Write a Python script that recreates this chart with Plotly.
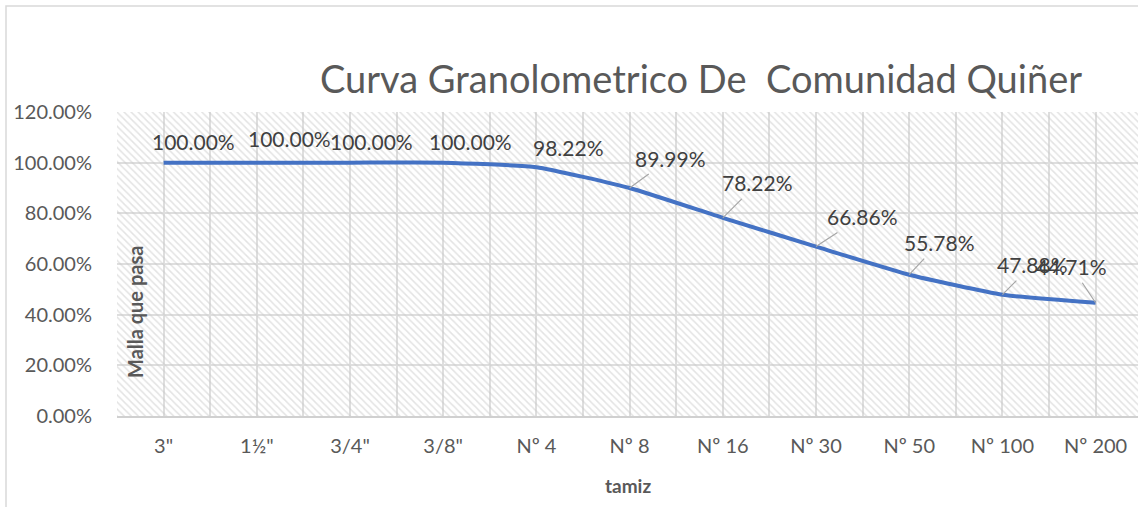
import plotly.graph_objects as go

categories = ['3"', '1½"', '3/4"', '3/8"', 'Nº 4', 'Nº 8', 'Nº 16', 'Nº 30', 'Nº 50', 'Nº 100', 'Nº 200']
passing = [1.0, 1.0, 1.0, 1.0, 0.9822, 0.8999, 0.7822, 0.6686, 0.5578, 0.4788, 0.4471]
label_dx = [30, 33, 21, 27, 32, 41, 35, 46, 30, 30, -24]
label_dy = [-21, -24, -21, -21, -20, -30, -35, -30, -32, -30, -36]
show_leader = [False, False, False, False, False, True, True, True, True, True, True]

title_text = "Curva Granolometrico De  Comunidad Quiñer"
x_title = "tamiz"
y_title = "Malla que pasa"

W, H = 1138, 507
ML, MR, MT, MB = 117, 0, 112, 91
FONT = "Lato"
GRAY = "#595959"
idx = list(range(len(categories)))

fig = go.Figure()

# hatched plot-area background
fig.add_trace(go.Bar(
    x=idx, y=[1.2] * len(idx), width=1.0,
    marker=dict(color="rgba(0,0,0,0)", line=dict(width=0),
                pattern=dict(shape="\\", fgcolor="#c8c8c8", bgcolor="rgba(0,0,0,0)",
                             size=5, solidity=0.3)),
    hoverinfo="skip", showlegend=False))

fig.add_trace(go.Scatter(
    x=idx, y=passing, mode="lines",
    line=dict(color="#4472C4", width=4, shape="spline", smoothing=0.45),
    hoverinfo="skip", showlegend=False))

for i, v in enumerate(passing):
    fig.add_annotation(
        x=i, y=v, xref="x", yref="y", text=f"{v*100:.2f}%",
        showarrow=True, arrowhead=0, arrowwidth=1.2, borderpad=3,
        arrowcolor="#a6a6a6" if show_leader[i] else "rgba(0,0,0,0)",
        ax=label_dx[i], ay=label_dy[i],
        font=dict(family=FONT, size=21, color="#404040"))

plot_w = W - ML - MR
plot_h = H - MT - MB
xmax = -0.5 + plot_w / 93.2

fig.update_layout(
    width=W, height=H,
    margin=dict(l=ML, r=MR, t=MT, b=MB, autoexpand=False),
    paper_bgcolor="white", plot_bgcolor="white",
    bargap=0,
    font=dict(family=FONT, color=GRAY),
    title=dict(text=title_text, xref="paper", x=(701 - ML) / plot_w, xanchor="center",
               yref="container", y=1 - 80 / H, yanchor="middle", automargin=False,
               font=dict(family=FONT, size=38, color=GRAY)),
    xaxis=dict(range=[-0.5, xmax], tickmode="array", tickvals=idx, ticktext=categories,
               showgrid=True, gridcolor="#dedede", gridwidth=1.5,
               minor=dict(tickmode="array", tickvals=[i - 0.5 for i in idx] + [10.5],
                          showgrid=True, gridcolor="#dedede", gridwidth=1.5),
               showline=True, linecolor="#d0d0d0", linewidth=2,
               ticks="outside", ticklen=11, tickcolor="rgba(0,0,0,0)",
               tickfont=dict(family=FONT, size=20, color=GRAY),
               zeroline=False, fixedrange=True, automargin=False),
    yaxis=dict(range=[0, 1.2], dtick=0.2, tickformat=".2%",
               showgrid=True, gridcolor="#dedede", gridwidth=1.5,
               ticks="outside", ticklen=20, tickcolor="rgba(0,0,0,0)",
               tickfont=dict(family=FONT, size=20, color=GRAY),
               zeroline=False, showline=False, automargin=False),
)

# axis titles
fig.add_annotation(text=f"<b>{x_title}</b>", xref="paper", yref="paper",
                   x=(628 - ML) / plot_w, y=-(486 - (H - MB)) / plot_h,
                   showarrow=False, xanchor="center", yanchor="middle",
                   font=dict(family=FONT, size=19, color=GRAY))
fig.add_annotation(text=f"<b>{y_title}</b>", xref="paper", yref="paper",
                   x=(135 - ML) / plot_w, y=(416 - 312) / plot_h,
                   showarrow=False, textangle=-90, xanchor="center", yanchor="middle",
                   font=dict(family=FONT, size=20, color=GRAY))

# chart outer border
fig.add_shape(type="rect", xref="paper", yref="paper",
              x0=(6 - ML) / plot_w, x1=(W + 10 - ML) / plot_w,
              y0=-(H + 10 - 416) / plot_h, y1=(416 - 6) / plot_h,
              line=dict(color="#d9d9d9", width=1.5), fillcolor="rgba(0,0,0,0)", layer="below")

fig.write_html("out.html", config={"displayModeBar": False},
               post_script="document.body.style.margin='0';document.body.style.overflow='hidden';")
